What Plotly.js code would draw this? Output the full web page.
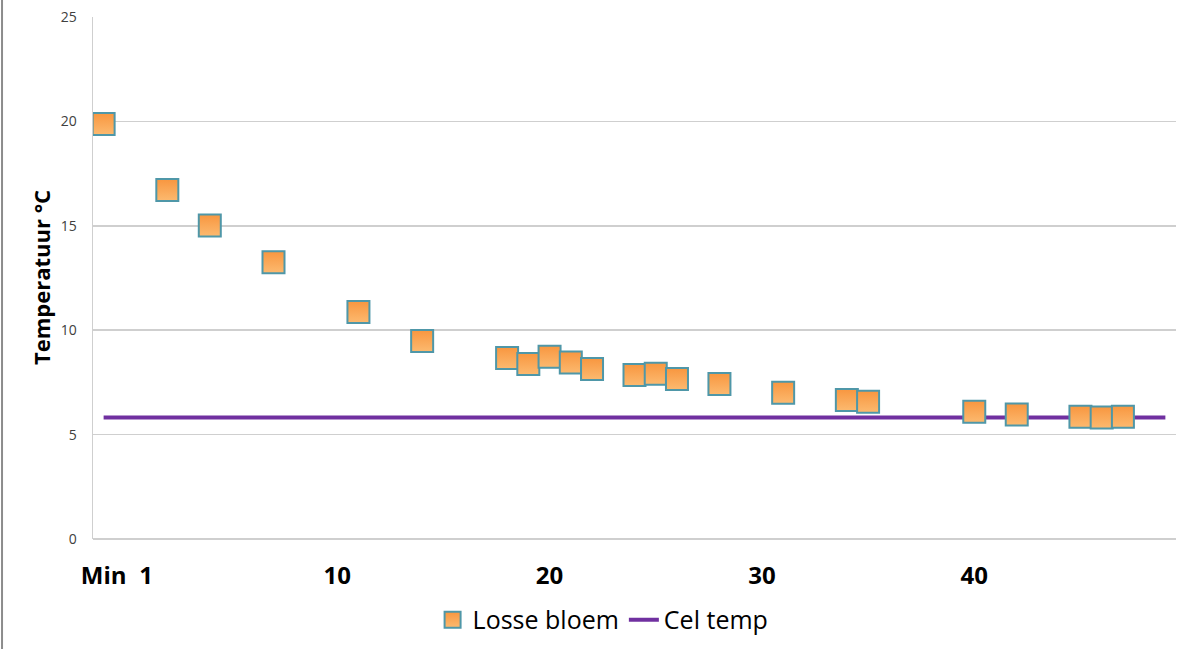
<!DOCTYPE html>
<html>
<head>
<meta charset="utf-8">
<script src="https://cdn.plot.ly/plotly-3.0.1.min.js"></script>
<style>html,body{margin:0;padding:0;background:#fff;}#chart{width:1178px;height:649px;}</style>
</head>
<body>
<div id="chart"></div>
<script>
// Data
const minutes = [-1, 2, 4, 7, 11, 14, 18, 19, 20, 21, 22, 24, 25, 26, 28, 31, 34, 35, 40, 42, 45, 46, 47];
const losseBloem = [19.87, 16.71, 15.01, 13.26, 10.87, 9.48, 8.67, 8.38, 8.73, 8.45, 8.14, 7.85, 7.92, 7.66, 7.42, 7.01, 6.66, 6.57, 6.09, 5.96, 5.85, 5.82, 5.86];
const celTempX = [-1, 49];
const celTempY = [5.82, 5.82];
const tickVals = [-1, 1, 10, 20, 30, 40];
const tickText = ['Min', '1', '10', '20', '30', '40'];
const yTicks = [0, 5, 10, 15, 20, 25];

const FONT = 'Open Sans, Liberation Sans, Arial, sans-serif';

const traces = [
  {
    x: celTempX, y: celTempY, name: 'Cel temp', type: 'scatter', mode: 'lines',
    line: {color: '#7030A0', width: 4}, legendrank: 2
  },
  {
    x: minutes, y: losseBloem, name: 'Losse bloem', type: 'scatter', mode: 'markers',
    marker: {symbol: 'square', size: 22, color: '#F8963F',
             gradient: {type: 'vertical', color: '#FCBA70'},
             line: {color: '#4F97A8', width: 2}},
    legendrank: 1
  }
];

const layout = {
  width: 1178, height: 649,
  margin: {l: 93, r: 2, t: 17, b: 110},
  paper_bgcolor: '#ffffff', plot_bgcolor: '#ffffff',
  font: {family: FONT, color: '#000'},
  showlegend: true,
  legend: {orientation: 'h', x: 0.471, xanchor: 'center', y: -0.155, yanchor: 'middle',
           font: {size: 25, color: '#000', family: FONT}, traceorder: 'normal'},
  xaxis: {
    range: [-1.5, 49.5], showgrid: false, zeroline: false, showline: false,
    tickmode: 'array', tickvals: tickVals, ticktext: tickText,
    tickfont: {size: 24, color: '#000', family: FONT, weight: 'bold'},
    ticks: '', ticklabelstandoff: 20
  },
  yaxis: {
    range: [0, 25], tickmode: 'array', tickvals: yTicks,
    showgrid: true, gridcolor: '#CFCFCF', gridwidth: 1.5,
    zeroline: true, zerolinecolor: '#CFCFCF', zerolinewidth: 1.5,
    showline: true, linecolor: '#CFCFCF', linewidth: 1.5,
    tickfont: {size: 14, color: '#404040', family: FONT}, ticks: '', ticklabelstandoff: 12
  },
  annotations: [{
    text: '<b>Temperatuur °C</b>', xref: 'paper', yref: 'paper',
    x: -0.048, y: 0.5, xanchor: 'center', yanchor: 'middle', textangle: -90,
    showarrow: false, font: {size: 22, color: '#000', family: FONT}
  }],
  shapes: [{
    type: 'line', xref: 'paper', yref: 'paper',
    x0: -0.0840, x1: -0.0840, y0: -0.215, y1: 1.04,
    line: {color: '#8C8C8C', width: 2}
  }]
};

Plotly.newPlot('chart', traces, layout, {displayModeBar: false, staticPlot: true});
</script>
</body>
</html>
